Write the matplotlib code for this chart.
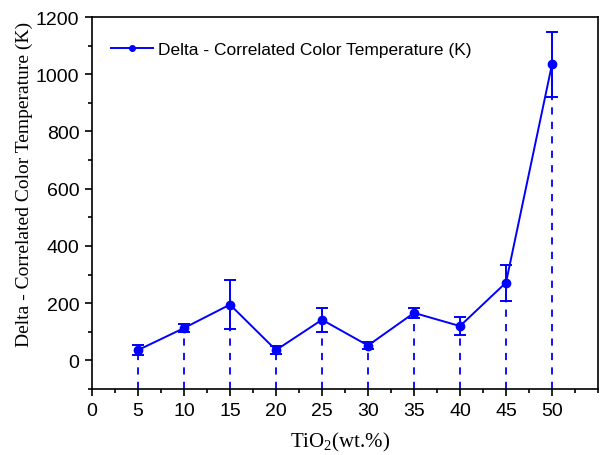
import matplotlib.pyplot as plt
from matplotlib.ticker import MultipleLocator
from matplotlib.lines import Line2D

# data
tio2 = [5, 10, 15, 20, 25, 30, 35, 40, 45, 50]
delta_cct = [36, 113, 195, 36, 142, 52, 166, 120, 272, 1035]
errors = [18, 13, 85, 15, 42, 13, 17, 31, 63, 114]

blue = '#0000FF'
plt.rcParams['mathtext.fontset'] = 'custom'
plt.rcParams['mathtext.rm'] = 'Liberation Serif'
plt.rcParams['mathtext.it'] = 'Liberation Serif:italic'

fig = plt.figure(figsize=(6, 4.56), dpi=100)
ax = fig.add_axes([0.1533, 0.1447, 0.8434, 0.8158])

ymin = -100
ax.vlines(tio2, ymin, delta_cct, colors=blue, linestyles=(0, (4, 4)), linewidth=1.3)
ax.errorbar(tio2, delta_cct, yerr=errors, color=blue, marker='o', markersize=6,
            linewidth=1.4, capsize=4, capthick=1.4, elinewidth=1.4)

ax.set_xlim(0, 55)
ax.set_ylim(ymin, 1200)
ax.set_xticks([0] + tio2)
ax.xaxis.set_minor_locator(MultipleLocator(2.5))
ax.yaxis.set_major_locator(MultipleLocator(200))
ax.yaxis.set_minor_locator(MultipleLocator(100))
ax.tick_params(which='major', direction='out', length=5, width=1.2, top=False, right=False, pad=4)
ax.tick_params(which='minor', direction='out', length=3, width=1.2, top=False, right=False)
for lbl in ax.get_xticklabels() + ax.get_yticklabels():
    lbl.set_fontfamily('Liberation Sans')
    lbl.set_fontsize(14)
for sp in ax.spines.values():
    sp.set_linewidth(1.2)

ax.set_xlabel(r'TiO$_\mathrm{2}$(wt.%)', fontfamily='Liberation Serif', fontsize=15)
ax.xaxis.set_label_coords(0.49, -0.111)
ax.set_ylabel('Delta - Correlated Color Temperature (K)', fontfamily='Liberation Serif', fontsize=14)
ax.yaxis.set_label_coords(-0.117, 0.552)

handle = Line2D([], [], color=blue, marker='o', markersize=4, linewidth=1.4)
ax.legend([handle], ['Delta - Correlated Color Temperature (K)'], loc='upper left', frameon=False,
          prop={'family': 'Liberation Sans', 'size': 12.5}, handlelength=2.4,
          handletextpad=0.3, borderaxespad=0.7, bbox_to_anchor=(0, 0.984))

fig.savefig('out.png', dpi=100)
